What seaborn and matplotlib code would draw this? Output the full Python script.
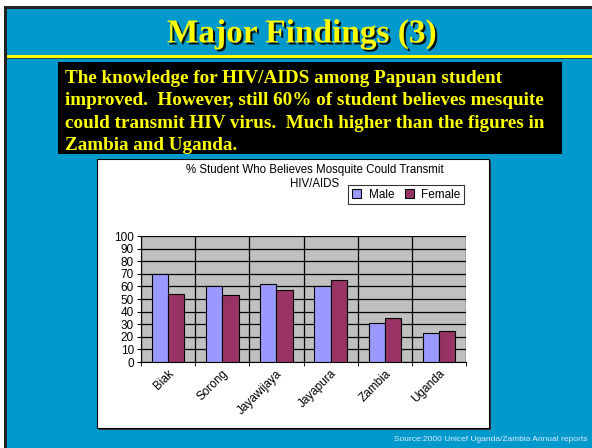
import numpy as np
import pandas as pd
import seaborn as sns
import matplotlib.pyplot as plt
from matplotlib.patches import Rectangle
import matplotlib.patheffects as pe

# data
sites = ["Biak", "Sorong", "Jayawijaya", "Jayapura", "Zambia", "Uganda"]
male = [70, 60, 62, 60, 31, 23]
female = [54, 53, 57, 65, 35, 25]

df = pd.DataFrame({
    "site": sites * 2,
    "gender": ["Male"] * len(sites) + ["Female"] * len(sites),
    "pct": male + female,
})

W, H = 592, 448
fig = plt.figure(figsize=(W / 100, H / 100), dpi=100)
fig.patch.set_facecolor("white")


def box(x0, y0, x1, y1, **kw):
    # pixel coords (top-left origin) -> figure fraction
    r = Rectangle((x0 / W, 1 - y1 / H), (x1 - x0) / W, (y1 - y0) / H,
                  transform=fig.transFigure, **kw)
    fig.patches.append(r)
    return r


# slide background
box(4, 6, W, H, facecolor="#222222", edgecolor="none", zorder=0)
box(7, 9, W, H, facecolor="#0099CC", edgecolor="none", zorder=0)
box(7, 55, W, 58, facecolor="#FFFF00", edgecolor="none", zorder=1)
box(7, 58, W, 59, facecolor="#1a4a5a", edgecolor="none", zorder=1)
box(58, 62, 562, 154, facecolor="black", edgecolor="none", zorder=1)
box(99, 161, 491, 430, facecolor="#333333", edgecolor="none", zorder=1)
box(97, 159, 489, 428, facecolor="white", edgecolor="black", linewidth=0.8, zorder=2)

serif = ["Liberation Serif", "DejaVu Serif"]
fig.text(302 / W, 1 - 34 / H, "Major Findings (3)", ha="center", va="center",
         color="#FFFF00", fontsize=24, fontweight="bold", family=serif,
         path_effects=[pe.withSimplePatchShadow(offset=(1.5, -1.5), shadow_rgbFace="black", alpha=0.9)])

body = ("The knowledge for HIV/AIDS among Papuan student\n"
        "improved.  However, still 60% of student believes mesquite\n"
        "could transmit HIV virus.  Much higher than the figures in\n"
        "Zambia and Uganda.")
fig.text(65 / W, 1 - 70 / H, body, ha="left", va="top", color="#FFFF00",
         fontsize=13.8, fontweight="bold", family=serif, linespacing=1.42)

fig.text(587 / W, 1 - 439 / H, "Source:2000 Unicef Uganda/Zambia Annual reports",
         ha="right", va="center", color="#DDEEFF", fontsize=6, family="Liberation Sans")

# chart
ax = fig.add_axes([141 / W, 1 - 362 / H, (466 - 141) / W, (362 - 236) / H], zorder=3)
sns.barplot(data=df, x="site", y="pct", hue="gender", ax=ax,
            palette={"Male": "#9999FF", "Female": "#993366"},
            width=0.6, edgecolor="black", linewidth=0.8, saturation=1, zorder=3)

ax.set_facecolor("#C0C0C0")
ax.set_ylim(0, 100)
ax.set_xlim(-0.5, len(sites) - 0.5)
ax.set_yticks(np.arange(0, 101, 10))
ax.set_xticks(np.arange(-0.5, len(sites), 1.0), minor=True)
ax.grid(axis="y", color="black", linewidth=0.9, zorder=0)
ax.grid(axis="x", which="minor", color="black", linewidth=0.9, zorder=0)
ax.grid(axis="x", which="major", visible=False)
ax.set_axisbelow(True)
for s in ["top", "right"]:
    ax.spines[s].set_visible(False)
ax.spines["left"].set_color("black")
ax.spines["bottom"].set_color("black")
ax.set_xlabel("")
ax.set_ylabel("")
ax.tick_params(axis="y", labelsize=8.5, length=3, pad=2)
ax.tick_params(axis="x", which="major", labelsize=8.5, length=0, pad=4)
ax.tick_params(axis="x", which="minor", length=3)
for lbl in ax.get_yticklabels():
    lbl.set_family("Liberation Sans")
for lbl in ax.get_xticklabels():
    lbl.set_family("Liberation Sans")
    lbl.set_rotation(45)
    lbl.set_ha("right")
    lbl.set_rotation_mode("anchor")

ax.legend_.remove()
leg = fig.legend(*ax.get_legend_handles_labels(), loc="upper right",
                 bbox_to_anchor=(464 / W, 1 - 185 / H), borderaxespad=0,
                 ncol=2, frameon=True, fancybox=False, edgecolor="black",
                 handlelength=0.8, handleheight=0.8, columnspacing=0.9,
                 handletextpad=0.6, borderpad=0.3,
                 prop={"family": "Liberation Sans", "size": 8.5})
leg.get_frame().set_linewidth(0.8)
leg.set_zorder(5)

# chart title, two separate lines
fig.text(315 / W, 1 - 170 / H, "% Student Who Believes Mosquite Could Transmit",
         ha="center", va="center", fontsize=8.3, family="Liberation Sans", zorder=5)
fig.text(315 / W, 1 - 184 / H, "HIV/AIDS",
         ha="center", va="center", fontsize=8.3, family="Liberation Sans", zorder=5)

fig.savefig("out.png", dpi=100)
